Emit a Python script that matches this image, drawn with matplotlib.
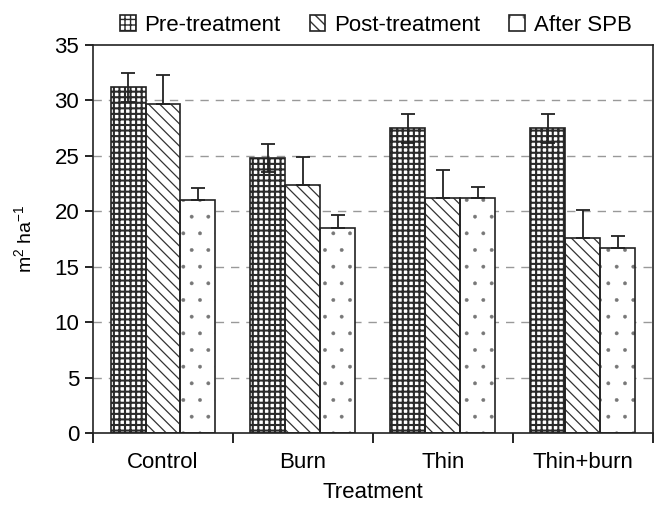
import matplotlib
matplotlib.use('Agg')
import matplotlib.pyplot as plt
from matplotlib.legend_handler import HandlerTuple
import numpy as np

plt.rcParams['font.family'] = ['Liberation Sans', 'DejaVu Sans']
plt.rcParams['mathtext.fontset'] = 'custom'
plt.rcParams['mathtext.rm'] = 'Liberation Sans'
plt.rcParams['mathtext.it'] = 'Liberation Sans'

# ---- data ----
treatments = ['Control', 'Burn', 'Thin', 'Thin+burn']
series_names = ['Pre-treatment', 'Post-treatment', 'After SPB']
pre = [31.2, 24.8, 27.5, 27.5]
post = [29.7, 22.4, 21.2, 17.6]
after = [21.0, 18.5, 21.2, 16.7]
pre_err = [1.3, 1.3, 1.3, 1.3]
post_err = [2.6, 2.5, 2.5, 2.5]
after_err = [1.1, 1.2, 1.0, 1.1]

values = [pre, post, after]
errors = [pre_err, post_err, after_err]
hatches = ['+++', '\\\\\\', '.']
hatch_cols = ['#2a2a2a', '#333333', '#777777']
hatch_lws = [1.5, 0.9, 0.3]

fig = plt.figure(figsize=(6.57, 5.08), dpi=100)
ax = fig.add_axes([0.1416, 0.1476, 0.852, 0.7638])

x = np.arange(len(treatments))
w = 0.25
handles = []
for i, (vals, errs) in enumerate(zip(values, errors)):
    pos = x + (i - 1) * w
    with plt.rc_context({'hatch.linewidth': hatch_lws[i]}):
        fill = ax.bar(pos, vals, width=w, color='white', edgecolor=hatch_cols[i],
                      hatch=hatches[i], linewidth=0, zorder=2)
    for p in fill:
        if hasattr(p, 'set_hatch_linewidth'):
            p.set_hatch_linewidth(hatch_lws[i])
    outline = ax.bar(pos, vals, width=w, fill=False, edgecolor='#222222',
                     linewidth=1.2, zorder=2.5)
    handles.append((fill[0], outline[0]))
    lower = errs if i == 0 else [0] * len(errs)
    ax.errorbar(pos, vals, yerr=[lower, errs], fmt='none', ecolor='#222222',
                elinewidth=1.3, capsize=5, capthick=1.3, zorder=3)

ax.set_ylim(0, 35)
ax.set_yticks(range(0, 36, 5))
ax.set_xlim(-0.5, 3.5)
ax.set_xticks(np.arange(-0.5, 4, 1))
ax.set_xticklabels([])
ax.set_xticks(x, minor=True)
ax.set_xticklabels(treatments, minor=True)
ax.tick_params(axis='x', which='minor', length=0, labelsize=16, pad=14)
ax.tick_params(axis='x', which='major', length=7, width=1.2, direction='out')
ax.tick_params(axis='y', length=6, width=1.2, labelsize=16, pad=4)

for yv in range(5, 35, 5):
    ax.axhline(yv, color='#999999', linestyle=(0, (6, 5)), linewidth=1, zorder=1)

for s in ax.spines.values():
    s.set_linewidth(1.2)
    s.set_color('#222222')

ax.set_ylabel(r'm$^2$ ha$^{-1}$', fontsize=14, labelpad=14)
ax.set_xlabel('Treatment', fontsize=16, labelpad=6)

ax.legend(handles, series_names, handler_map={tuple: HandlerTuple(ndivide=1)},
          loc='lower center', bbox_to_anchor=(0.505, 0.995), ncol=3, frameon=False,
          fontsize=16, handlelength=0.7, handleheight=0.7, handletextpad=0.4,
          columnspacing=1.3, borderaxespad=0.1)

plt.savefig('out.png', dpi=100)
plt.close()
